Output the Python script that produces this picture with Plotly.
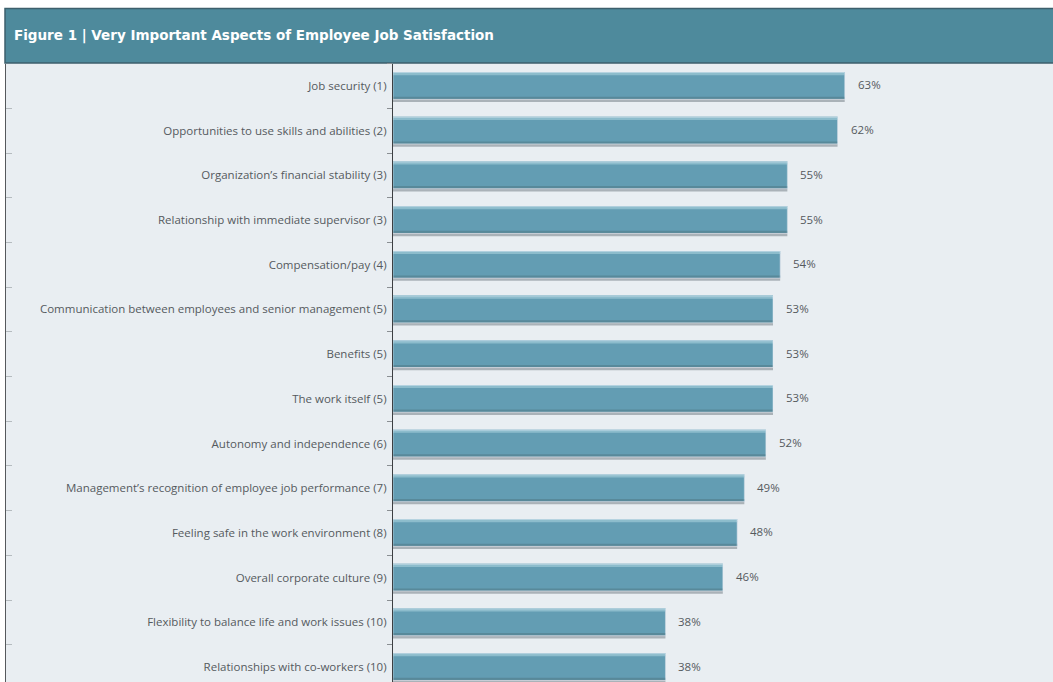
import plotly.graph_objects as go

categories = [
    "Job security (1)",
    "Opportunities to use skills and abilities (2)",
    "Organization’s financial stability (3)",
    "Relationship with immediate supervisor (3)",
    "Compensation/pay (4)",
    "Communication between employees and senior management (5)",
    "Benefits (5)",
    "The work itself (5)",
    "Autonomy and independence (6)",
    "Management’s recognition of employee job performance (7)",
    "Feeling safe in the work environment (8)",
    "Overall corporate culture (9)",
    "Flexibility to balance life and work issues (10)",
    "Relationships with co-workers (10)",
]
values = [63, 62, 55, 55, 54, 53, 53, 53, 52, 49, 48, 46, 38, 38]
value_labels = [f"{v}%" for v in values]
title_text = "Figure 1 | Very Important Aspects of Employee Job Satisfaction"

W, H = 1053, 682
BG = "#e9eef2"
BAR = "#639db3"
BAR_LIGHT = "#8cbccc"
BAR_DARK = "#58899a"
SHADOW = "#aab2b8"
TXT = "#555a5e"

fig = go.Figure()

# shadow under the bars
fig.add_trace(go.Bar(
    y=categories, x=values, orientation="h",
    width=0.63, offset=-0.27,
    marker=dict(color=SHADOW, line=dict(width=0)),
    hoverinfo="skip", showlegend=False,
))
# main bar body
fig.add_trace(go.Bar(
    y=categories, x=values, orientation="h",
    width=0.6, offset=-0.31,
    marker=dict(color=BAR, line=dict(width=0)),
    hoverinfo="skip", showlegend=False,
))
# top bevel highlight
fig.add_trace(go.Bar(
    y=categories, x=values, orientation="h",
    width=0.07, offset=-0.31,
    marker=dict(color=BAR_LIGHT, line=dict(width=0)),
    hoverinfo="skip", showlegend=False,
))
# bottom bevel dark
fig.add_trace(go.Bar(
    y=categories, x=values, orientation="h",
    width=0.05, offset=0.24,
    marker=dict(color=BAR_DARK, line=dict(width=0)),
    hoverinfo="skip", showlegend=False,
))
# invisible trace for left border ticks
fig.add_trace(go.Bar(
    y=categories, x=values, orientation="h",
    marker=dict(color="rgba(0,0,0,0)"),
    xaxis="x", yaxis="y2", hoverinfo="skip", showlegend=False,
))

x0_px = 393
y_top_px = 63.6
row_px = 44.7
x_scale = 7.17  # px per percentage point
x_max = (W - x0_px) / x_scale
y_bottom_idx = (H - y_top_px) / row_px - 0.5
ydom_top = 1 - y_top_px / H

for v, c, t in zip(values, categories, value_labels):
    fig.add_annotation(
        x=v, y=c, text=t, showarrow=False, xanchor="left", yanchor="middle",
        xshift=11, yshift=1, font=dict(family="Open Sans", size=11.5, color=TXT),
    )

fig.update_layout(
    width=W, height=H,
    margin=dict(l=0, r=0, t=0, b=0),
    paper_bgcolor="white",
    plot_bgcolor="rgba(0,0,0,0)",
    barmode="overlay",
    bargap=0.4,
    xaxis=dict(
        domain=[x0_px / W, 1], range=[0, x_max],
        showgrid=False, zeroline=False, showticklabels=False, ticks="",
        showline=False, fixedrange=True,
    ),
    yaxis=dict(
        domain=[0, ydom_top], type="category",
        range=[y_bottom_idx, -0.5],
        categoryorder="array", categoryarray=categories,
        showgrid=False, zeroline=False,
        showline=True, linecolor="#3c3f42", linewidth=1.2,
        ticks="outside", tickson="boundaries", ticklen=5,
        tickcolor="#8a8f93", tickwidth=1,
        tickfont=dict(family="Open Sans", size=11.5, color=TXT),
        ticklabelstandoff=3,
    ),
    yaxis2=dict(
        domain=[0, ydom_top], type="category", overlaying="y",
        anchor="free", position=5 / W, side="left",
        range=[y_bottom_idx, -0.5],
        categoryorder="array", categoryarray=categories,
        showgrid=False, zeroline=False, showticklabels=False,
        showline=True, linecolor="#55595c", linewidth=1.2,
        ticks="inside", tickson="boundaries", ticklen=6,
        tickcolor="#b5bbbf", tickwidth=1,
    ),
    shapes=[
        dict(type="rect", xref="paper", yref="paper",
             x0=5 / W, x1=1, y0=0, y1=1 - 63 / H,
             fillcolor=BG, line=dict(width=0), layer="below"),
        dict(type="rect", xref="paper", yref="paper",
             x0=5 / W, x1=1.01, y0=1 - 63 / H, y1=1 - 8.5 / H,
             fillcolor="#4e8a9c", line=dict(color="#3d5f6c", width=1.5),
             layer="below"),
    ],
)

fig.add_annotation(
    xref="paper", yref="paper", x=12 / W, y=1 - 36 / H,
    text=f"<b>{title_text}</b>", showarrow=False,
    xanchor="left", yanchor="middle",
    font=dict(family="DejaVu Sans", size=13.5, color="white"),
)

fig.write_html("out.html")
